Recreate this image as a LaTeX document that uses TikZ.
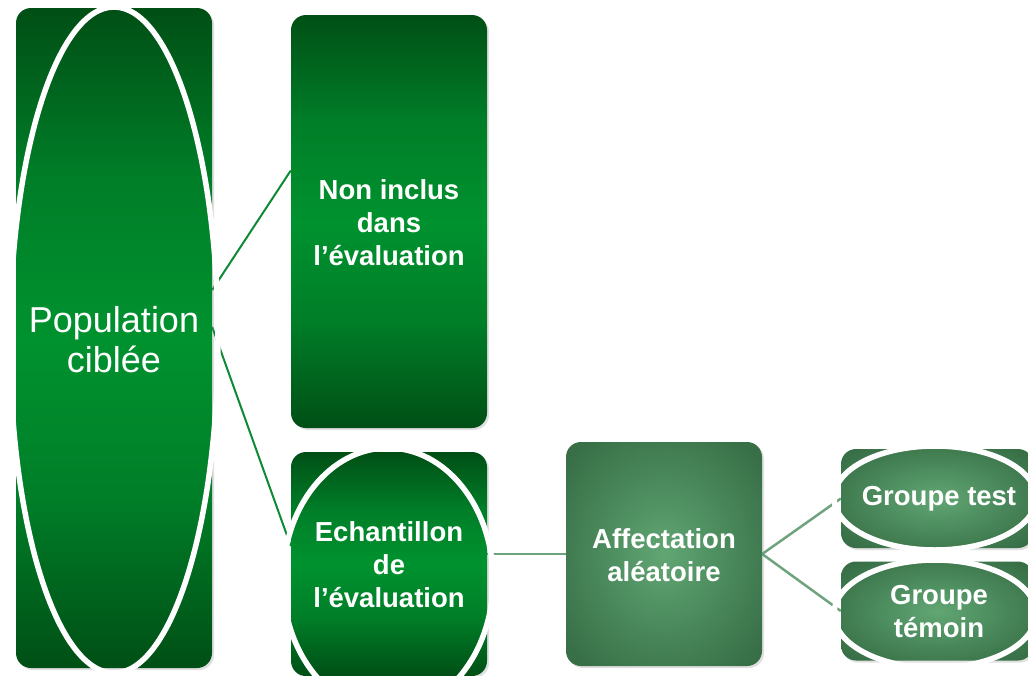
\documentclass[tikz,border=0pt]{standalone}
\usepackage{fontspec}
\setmainfont{Liberation Sans}
\usetikzlibrary{shapes.geometric,shadows,calc}
\definecolor{gin}{HTML}{00922F}
\definecolor{gmid}{HTML}{007E28}
\definecolor{gout}{HTML}{004F15}
\definecolor{min}{HTML}{62A674}
\definecolor{mmid}{HTML}{4C8C5E}
\definecolor{mout}{HTML}{386F46}
\definecolor{gline}{HTML}{0E8A35}
\definecolor{mline}{HTML}{6FA37E}
\pgfdeclareverticalshading{gshade}{100bp}{color(0bp)=(gout); color(25bp)=(gout); color(38bp)=(gmid); color(50bp)=(gin); color(62bp)=(gmid); color(75bp)=(gout); color(100bp)=(gout)}
\pgfdeclareradialshading{mshade}{\pgfpoint{0bp}{0bp}}{color(0bp)=(min); color(15bp)=(mmid); color(32bp)=(mout); color(50bp)=(mout)}
\tikzset{
  gbox/.style={rectangle, rounded corners=15pt, shading=gshade, draw=none,
    drop shadow={opacity=0.25, shadow xshift=2pt, shadow yshift=-2pt},
    inner sep=0pt},
  mbox/.style={gbox, shading=mshade},
  ring/.style={ellipse, draw=white, line width=5.5pt, fill=none, inner sep=0pt},
  glink/.style={draw=gline, line width=2pt},
  mlink/.style={draw=mline, line width=2.5pt},
  btext/.style={text=white, align=center, font=\bfseries\fontsize{27.5}{33}\selectfont},
}
\begin{document}
\begin{tikzpicture}[x=1pt,y=-1pt]
\useasboundingbox (0,0) rectangle (1028,675);
% anchors for connectors
\node[minimum width=196pt, minimum height=660pt, inner sep=0pt] (popA) at (114,338) {};
\node[minimum width=196pt, minimum height=413pt, inner sep=0pt] (nonA) at (389,221.5) {};
\node[minimum width=196pt, minimum height=224pt, inner sep=0pt] (echA) at (389,564) {};
\node[minimum width=196pt, minimum height=224pt, inner sep=0pt] (affA) at (664,554) {};
\node[minimum width=192pt, minimum height=99pt, inner sep=0pt] (gtA) at (937,498.5) {};
\node[minimum width=192pt, minimum height=99pt, inner sep=0pt] (gmA) at (937,611) {};
% connectors
\draw[glink] ([yshift=48pt]popA.east) -- ([yshift=51pt]nonA.west);
\draw[glink] ([yshift=11pt]popA.east) -- ([yshift=18pt]echA.west);
\draw[mlink] (echA.east |- affA.west) -- (affA.west);
\draw[mlink] (affA.east) -- (gtA.west);
\draw[mlink] (affA.east) -- (gmA.west);
% boxes
\node[gbox, minimum width=196pt, minimum height=660pt] (pop) at (popA) {};
\node[gbox, minimum width=196pt, minimum height=413pt] (non) at (nonA) {};
\node[gbox, minimum width=196pt, minimum height=224pt] (ech) at (echA) {};
\node[mbox, minimum width=196pt, minimum height=224pt] (aff) at (affA) {};
\node[mbox, minimum width=192pt, minimum height=99pt] (gt) at (gtA) {};
\node[mbox, minimum width=192pt, minimum height=99pt] (gm) at (gmA) {};
% rings
\node[ring, minimum width=208pt, minimum height=666pt] (popr) at (114,340) {};
\node[ring, minimum width=210pt, minimum height=264pt] (echr) at (388,580) {};
\node[ring, minimum width=202pt, minimum height=104pt] (gtr) at (935,498) {};
\node[ring, minimum width=202pt, minimum height=108pt] (gmr) at (935,614) {};
% texts
\node[text=white, align=center, font=\fontsize{36}{40}\selectfont] (popt) at (114,340) {Population\\ciblée};
\node[btext] (nont) at (389,223) {Non inclus\\dans\\l’évaluation};
\node[btext] (echt) at (389,565) {Echantillon\\de\\l’évaluation};
\node[btext] (afft) at (664,555) {Affectation\\aléatoire};
\node[btext] (gtt) at (939,499) {Groupe test};
\node[btext] (gmt) at (939,612) {Groupe\\témoin};
\end{tikzpicture}
\end{document}
